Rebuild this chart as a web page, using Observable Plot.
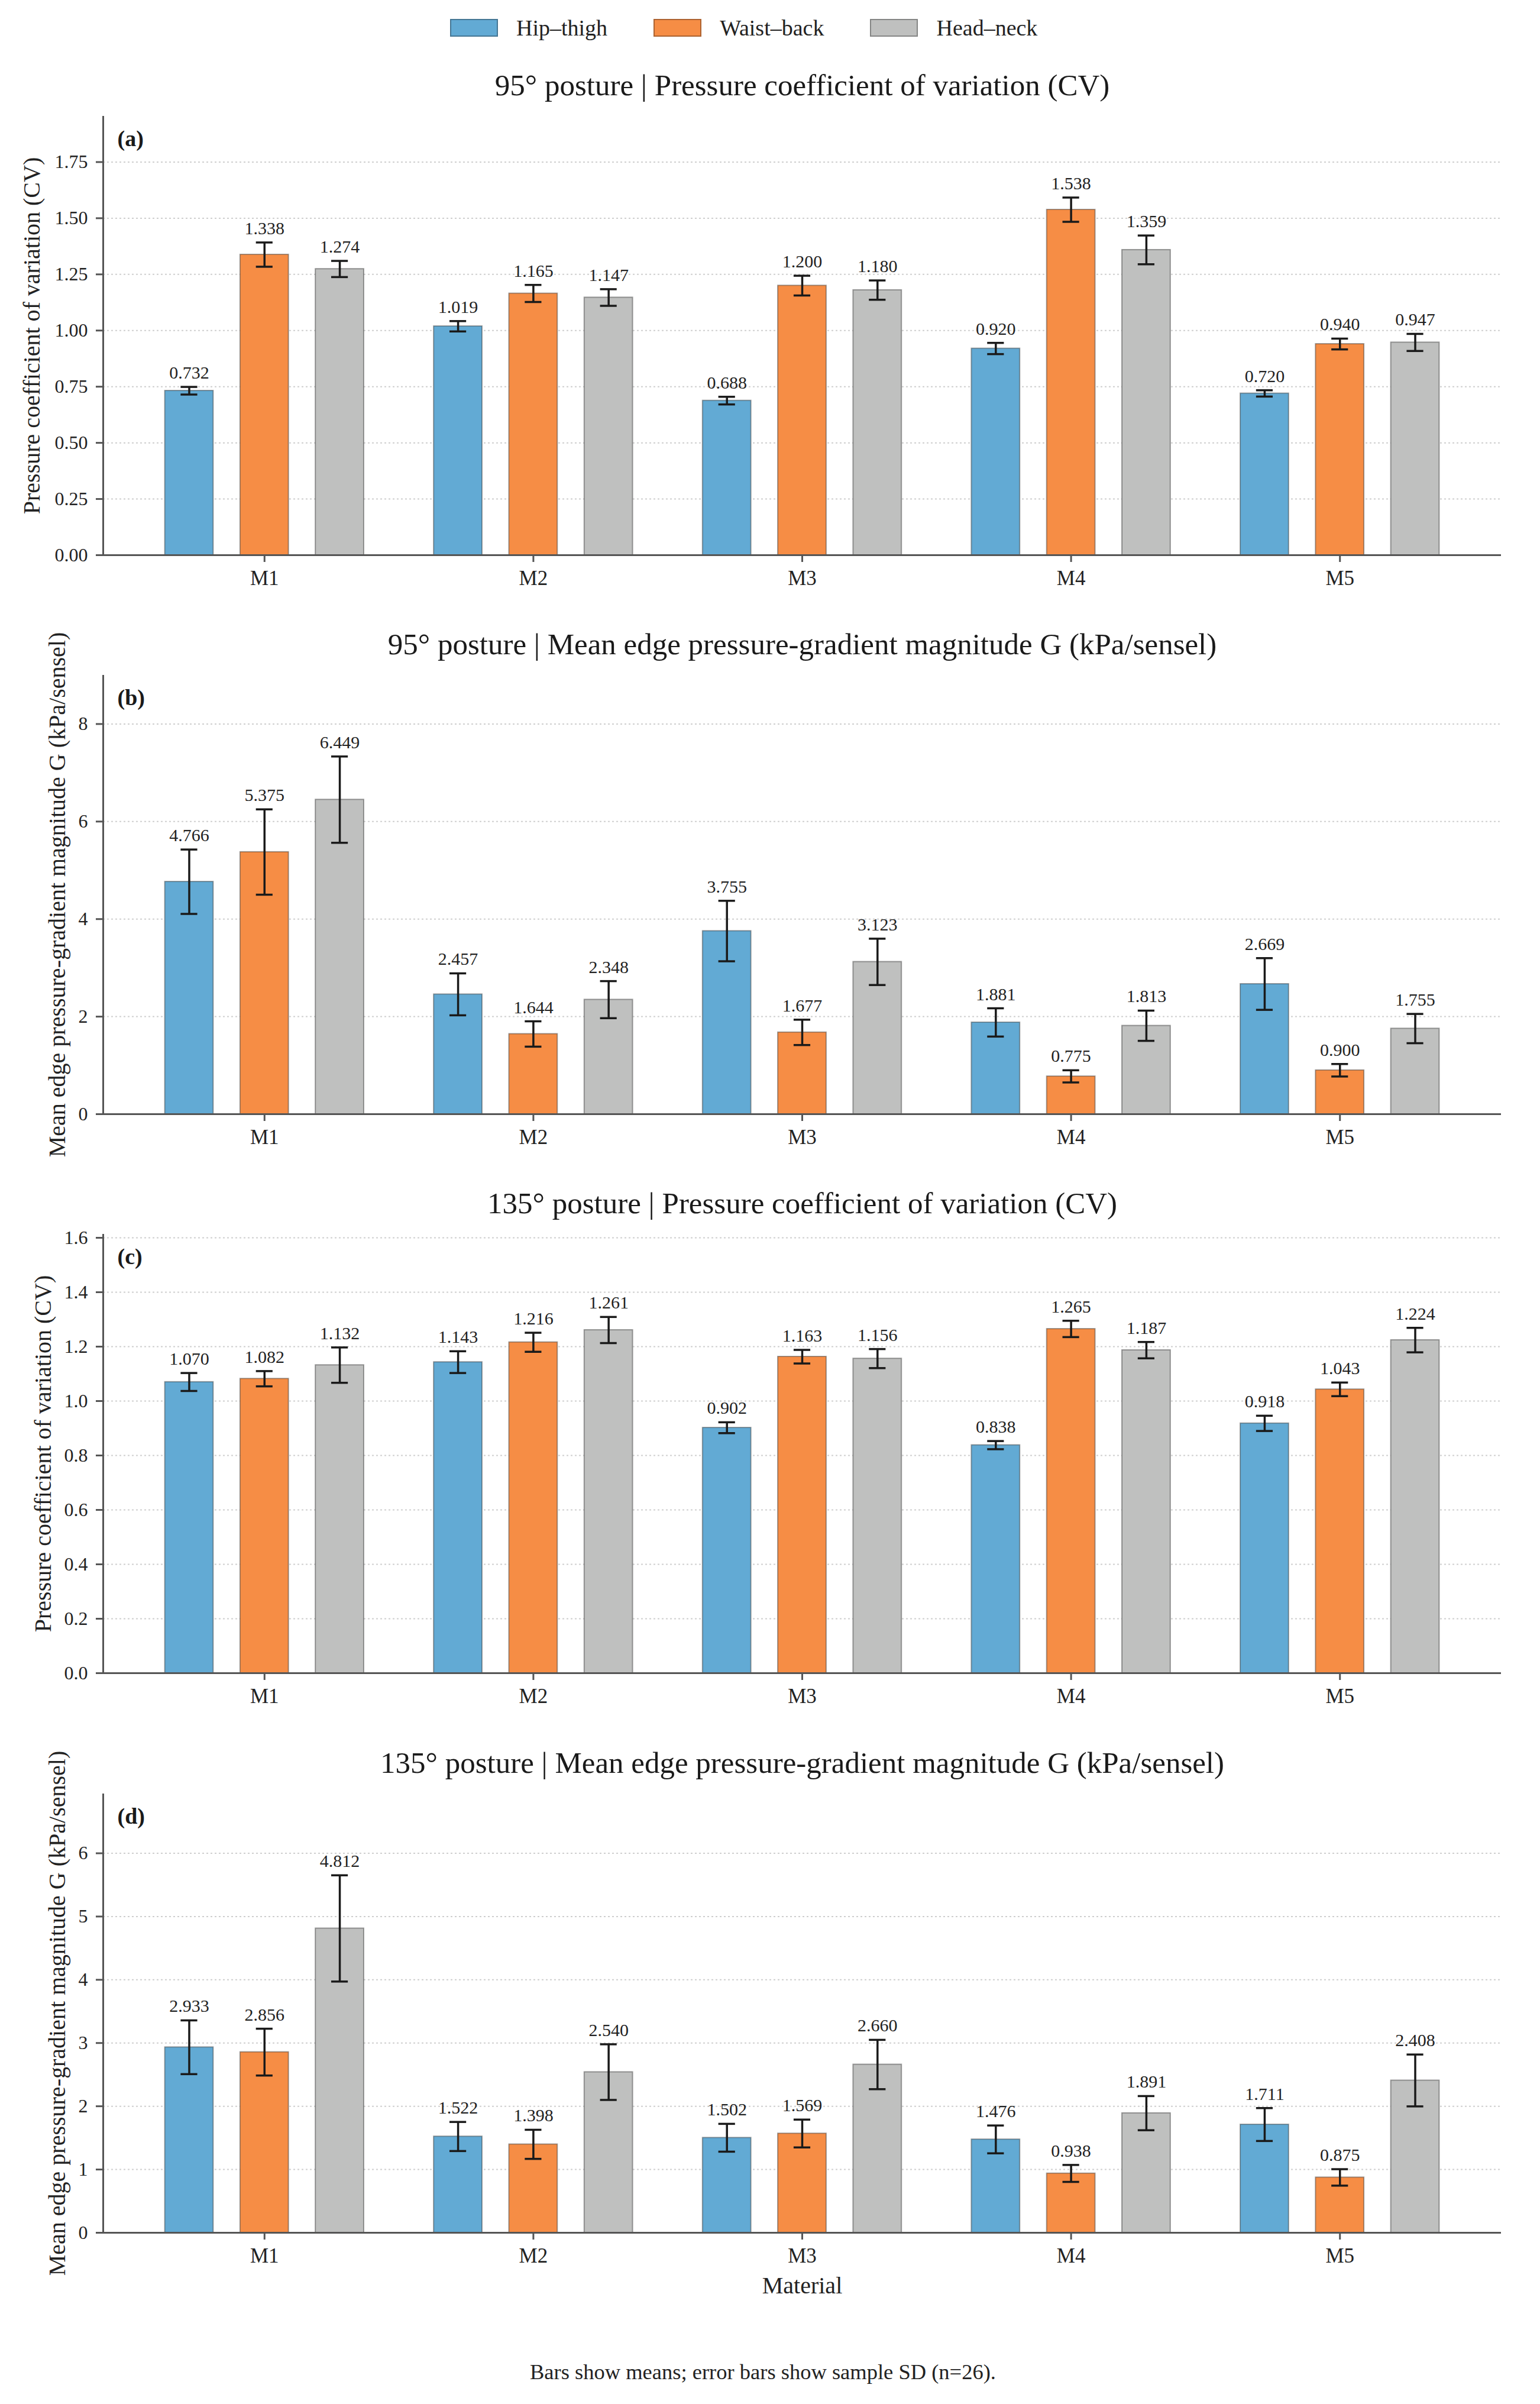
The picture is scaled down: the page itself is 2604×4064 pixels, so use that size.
<!DOCTYPE html>
<html>
<head>
<meta charset="utf-8">
<script src="https://cdn.jsdelivr.net/npm/d3@7"></script>
<script src="https://cdn.jsdelivr.net/npm/@observablehq/plot@0.6"></script>
<style>
  body { margin: 0; background: #fff; }
  #fig { position: relative; width: 2604px; height: 4064px; background: #fff;
         font-family: "Liberation Serif", "Times New Roman", serif; color: #222; overflow: hidden; }
  .panel { position: absolute; left: 0; }
  #legend { position: absolute; left: 761px; top: 28px; display: flex; align-items: center;
            font-size: 38px; line-height: 1; font-family: "Liberation Serif", serif; }
  .item { display: flex; align-items: center; margin-right: 78px; }
  .sw { width: 77px; height: 26px; margin-right: 31px; border: 2px solid rgba(0,0,0,0.3); }
  #caption { position: absolute; left: 0; width: 2580px; text-align: center; top: 3992px;
             font-size: 36.5px; line-height: 1; font-family: "Liberation Serif", serif; }
</style>
</head>
<body>
<div id="fig">
  <div id="legend"></div>
  <div id="caption">Bars show means; error bars show sample SD (n=26).</div>
</div>
<script>
// ---------- data ----------
const materials = ["M1", "M2", "M3", "M4", "M5"];
const regions = ["Hip–thigh", "Waist–back", "Head–neck"];
const regionColors = ["#62aad4", "#f68d45", "#bfc0bf"];

// rows = materials M1..M5, columns = regions (Hip–thigh, Waist–back, Head–neck)
const cv95Mean = [[0.732, 1.338, 1.274], [1.019, 1.165, 1.147], [0.688, 1.200, 1.180], [0.920, 1.538, 1.359], [0.720, 0.940, 0.947]];
const cv95SD   = [[0.017, 0.054, 0.036], [0.023, 0.038, 0.037], [0.017, 0.044, 0.043], [0.025, 0.054, 0.064], [0.014, 0.024, 0.038]];
const g95Mean  = [[4.766, 5.375, 6.449], [2.457, 1.644, 2.348], [3.755, 1.677, 3.123], [1.881, 0.775, 1.813], [2.669, 0.900, 1.755]];
const g95SD    = [[0.66, 0.875, 0.885], [0.43, 0.26, 0.38], [0.62, 0.26, 0.475], [0.29, 0.125, 0.31], [0.53, 0.128, 0.30]];
const cv135Mean = [[1.070, 1.082, 1.132], [1.143, 1.216, 1.261], [0.902, 1.163, 1.156], [0.838, 1.265, 1.187], [0.918, 1.043, 1.224]];
const cv135SD   = [[0.033, 0.028, 0.065], [0.040, 0.035, 0.048], [0.020, 0.025, 0.035], [0.015, 0.030, 0.030], [0.028, 0.025, 0.045]];
const g135Mean  = [[2.933, 2.856, 4.812], [1.522, 1.398, 2.540], [1.502, 1.569, 2.660], [1.476, 0.938, 1.891], [1.711, 0.875, 2.408]];
const g135SD    = [[0.425, 0.37, 0.84], [0.23, 0.23, 0.44], [0.22, 0.22, 0.39], [0.22, 0.134, 0.27], [0.26, 0.13, 0.41]];

const cvTicks95 = [0, 0.25, 0.5, 0.75, 1.0, 1.25, 1.5, 1.75];
const gTicks95 = [0, 2, 4, 6, 8];
const cvTicks135 = [0, 0.2, 0.4, 0.6, 0.8, 1.0, 1.2, 1.4, 1.6];
const gTicks135 = [0, 1, 2, 3, 4, 5, 6];

const titles = [
  "95° posture | Pressure coefficient of variation (CV)",
  "95° posture | Mean edge pressure-gradient magnitude G (kPa/sensel)",
  "135° posture | Pressure coefficient of variation (CV)",
  "135° posture | Mean edge pressure-gradient magnitude G (kPa/sensel)"
];
const tags = ["(a)", "(b)", "(c)", "(d)"];
const yLabels = [
  "Pressure coefficient of variation (CV)",
  "Mean edge pressure-gradient magnitude G (kPa/sensel)",
  "Pressure coefficient of variation (CV)",
  "Mean edge pressure-gradient magnitude G (kPa/sensel)"
];
const xLabel = "Material";

// ---------- layout / style ----------
const regionOffset = [-0.28, 0, 0.28];
const barHalf = 0.09;
const capHalf = 0.031;
const xDomain = [-0.6, 4.6];
const innerH = 742;
const mTop = 110;
const serif = "'Liberation Serif', 'Times New Roman', serif";

const panels = [
  {mean: cv95Mean, sd: cv95SD, ticks: cvTicks95, fmt: d3.format(".2f"), ymax: 1.954, axesTop: 196, labelDx: -120, mb: 70},
  {mean: g95Mean, sd: g95SD, ticks: gTicks95, fmt: d3.format("d"), ymax: 9.0, axesTop: 1141, labelDx: -77, mb: 70},
  {mean: cv135Mean, sd: cv135SD, ticks: cvTicks135, fmt: d3.format(".1f"), ymax: 1.613, axesTop: 2086, labelDx: -101, mb: 70},
  {mean: g135Mean, sd: g135SD, ticks: gTicks135, fmt: d3.format("d"), ymax: 6.94, axesTop: 3032, labelDx: -77, mb: 130}
];

const fig = document.getElementById("fig");
const f3 = d3.format(".3f");

panels.forEach((p, k) => {
  const rows = [];
  materials.forEach((m, i) => regions.forEach((r, j) => {
    rows.push({material: m, region: r, pos: i + regionOffset[j], mean: p.mean[i][j], sd: p.sd[i][j]});
  }));
  const marks = [
    Plot.ruleY(p.ticks.filter(t => t > 0), {stroke: "#cfcfcf", strokeWidth: 2, strokeDasharray: "3,4"}),
    Plot.rectY(rows, {x1: d => d.pos - barHalf, x2: d => d.pos + barHalf, y1: 0, y2: "mean",
      fill: "region", stroke: "#333", strokeOpacity: 0.45, strokeWidth: 2}),
    Plot.ruleX(rows, {x: "pos", y1: d => d.mean - d.sd, y2: d => d.mean + d.sd, stroke: "#1a1a1a", strokeWidth: 3.5}),
    Plot.ruleY(rows, {y: d => d.mean + d.sd, x1: d => d.pos - capHalf, x2: d => d.pos + capHalf, stroke: "#1a1a1a", strokeWidth: 3.5}),
    Plot.ruleY(rows, {y: d => d.mean - d.sd, x1: d => d.pos - capHalf, x2: d => d.pos + capHalf, stroke: "#1a1a1a", strokeWidth: 3.5}),
    Plot.text(rows, {x: "pos", y: d => d.mean + d.sd, text: d => f3(d.mean), dy: -14, lineAnchor: "bottom",
      fontSize: 30, fill: "#222"}),
    Plot.axisY({ticks: p.ticks, tickFormat: p.fmt, tickSize: 12, tickPadding: 14, fontSize: 32,
      stroke: "#555", strokeWidth: 3, fill: "#222", label: null}),
    Plot.axisX({ticks: [0, 1, 2, 3, 4], tickFormat: i => materials[i], tickSize: 12, tickPadding: 14, fontSize: 35,
      stroke: "#555", strokeWidth: 3, fill: "#222", label: null}),
    Plot.ruleX([xDomain[0]], {stroke: "#555", strokeWidth: 3}),
    Plot.ruleY([0], {stroke: "#555", strokeWidth: 3}),
    Plot.text([titles[k]], {text: d => d, frameAnchor: "top", dy: -36, lineAnchor: "bottom", fontSize: 51, fill: "#1a1a1a"}),
    Plot.text([tags[k]], {text: d => d, frameAnchor: "top-left", dx: 24, dy: 24, lineAnchor: "top", textAnchor: "start",
      fontSize: 38, fontWeight: "bold", fill: "#1a1a1a"}),
    Plot.text([yLabels[k]], {text: d => d, frameAnchor: "left", rotate: -90, dx: p.labelDx, lineAnchor: "middle",
      textAnchor: "middle", fontSize: 40, fill: "#222"})
  ];
  if (k === 3) {
    marks.push(Plot.text([xLabel], {text: d => d, frameAnchor: "bottom", dy: 102, lineAnchor: "bottom", fontSize: 40, fill: "#222"}));
  }
  const chart = Plot.plot({
    width: 2604,
    height: mTop + innerH + p.mb,
    marginLeft: 174, marginRight: 66, marginTop: mTop, marginBottom: p.mb,
    style: {fontFamily: serif, fontSize: "32px", background: "transparent", overflow: "visible"},
    x: {type: "linear", domain: xDomain, axis: null},
    y: {domain: [0, p.ymax], axis: null},
    color: {domain: regions, range: regionColors},
    marks
  });
  chart.classList.add("panel");
  chart.style.top = (p.axesTop - mTop) + "px";
  fig.appendChild(chart);
});

// legend
const legend = document.getElementById("legend");
regions.forEach((r, j) => {
  const item = document.createElement("div");
  item.className = "item";
  const sw = document.createElement("div");
  sw.className = "sw";
  sw.style.background = regionColors[j];
  const t = document.createElement("span");
  t.textContent = r;
  item.appendChild(sw);
  item.appendChild(t);
  legend.appendChild(item);
});
</script>
</body>
</html>
